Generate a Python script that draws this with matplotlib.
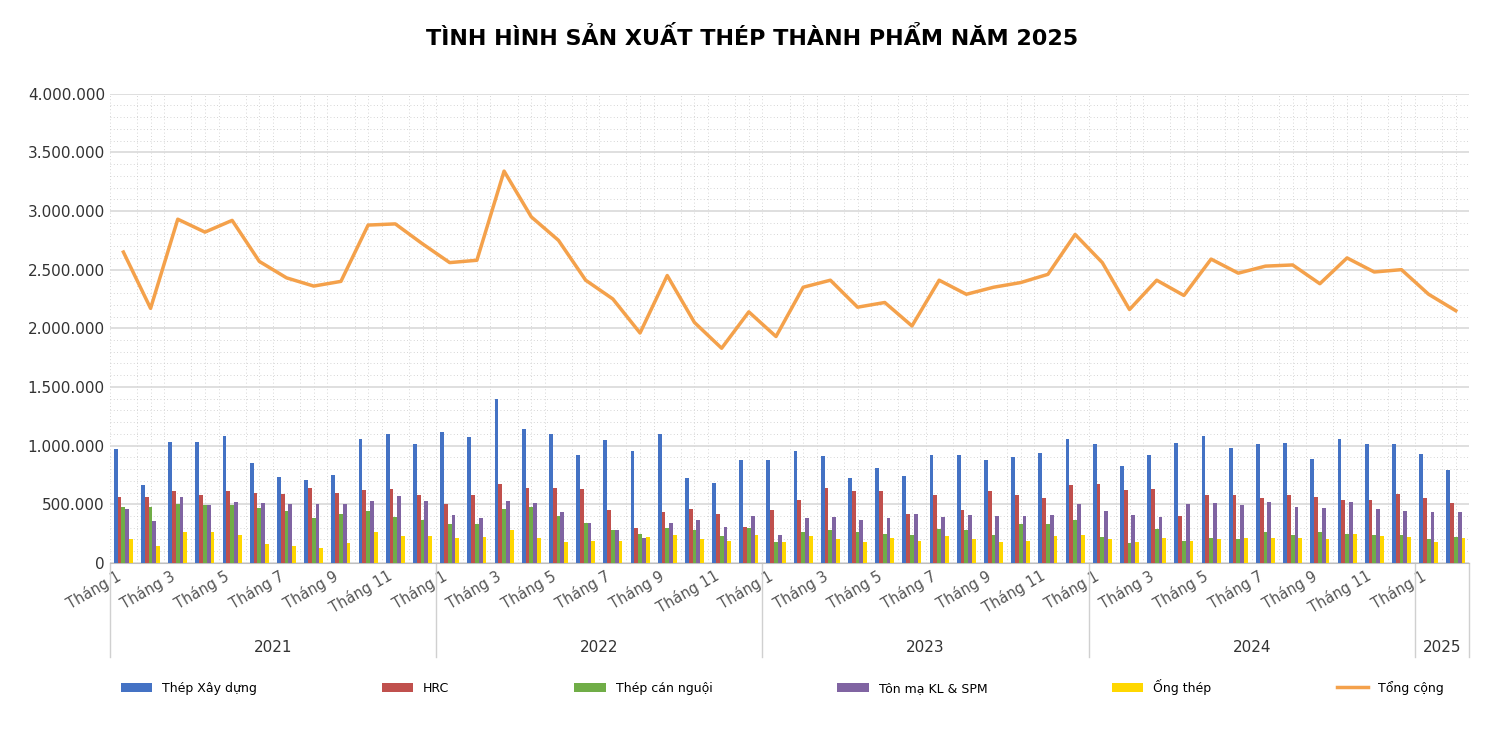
import matplotlib
matplotlib.use("Agg")
import matplotlib.pyplot as plt
import numpy as np
from matplotlib.ticker import FuncFormatter

years = ["2021", "2022", "2023", "2024", "2025"]
months_per_year = [12, 12, 12, 12, 2]
thep_xd = [970,660,1030,1030,1080,850,730,710,750,1060,1100,1010,
           1120,1070,1400,1140,1100,920,1050,950,1100,720,680,880,
           880,950,910,720,810,740,920,920,880,900,940,1060,
           1010,830,920,1020,1080,980,1010,1020,890,1060,1010,1010,
           930,790]
hrc = [560,560,610,580,610,600,590,640,600,620,630,580,
       500,580,670,640,640,630,450,300,430,460,420,310,
       450,540,640,610,610,420,580,450,610,580,550,660,
       670,620,630,400,580,580,550,580,560,540,540,590,
       550,510]
can_nguoi = [480,480,500,490,490,470,440,380,420,440,390,370,
             330,330,460,480,400,340,280,250,300,280,230,300,
             180,260,280,260,250,240,290,280,240,330,330,370,
             220,170,290,190,210,200,260,240,260,250,240,240,
             200,220]
ton_ma = [460,360,560,490,520,510,500,500,500,530,570,530,
          410,380,530,510,430,340,280,210,340,370,310,400,
          240,380,390,370,380,420,390,410,400,400,410,500,
          440,410,390,500,510,490,520,480,470,520,460,440,
          430,430]
ong_thep = [200,140,260,260,240,160,140,130,170,260,230,230,
            210,220,280,210,180,190,190,220,240,200,190,240,
            180,230,200,180,210,190,230,200,180,190,230,240,
            200,180,210,190,200,210,210,210,200,250,230,220,
            180,210]
tong = [2650,2170,2930,2820,2920,2570,2430,2360,2400,2880,2890,2720,
        2560,2580,3340,2950,2750,2410,2250,1960,2450,2050,1830,2140,
        1930,2350,2410,2180,2220,2020,2410,2290,2350,2390,2460,2800,
        2560,2160,2410,2280,2590,2470,2530,2540,2380,2600,2480,2500,
        2290,2150]
series = [("Thép Xây dựng", thep_xd, "#4472C4"), ("HRC", hrc, "#C0504D"),
          ("Thép cán nguội", can_nguoi, "#70AD47"), ("Tôn mạ KL & SPM", ton_ma, "#8064A2"),
          ("Ống thép", ong_thep, "#FFD700")]

fig = plt.figure(figsize=(15.04, 7.32), dpi=100)
ax = fig.add_axes([0.073, 0.231, 0.904, 0.641])
n = len(tong)
x = np.arange(n)
w = 0.14
for i, (name, vals, c) in enumerate(series):
    ax.bar(x + (i - 2) * w, np.array(vals) * 1000, w, color=c, label=name, zorder=3)
ax.plot(x, np.array(tong) * 1000, color="#F4A14B", lw=2.5, label="Tổng cộng", zorder=4)
ax.set_ylim(0, 4_000_000)
ax.set_xlim(-0.5, n - 0.5)
ax.set_yticks(np.arange(0, 4_000_001, 500_000))
ax.yaxis.set_major_formatter(FuncFormatter(lambda v, p: f"{int(v):,}".replace(",", ".")))
ax.grid(axis="y", color="#d9d9d9", lw=1.2, zorder=0)
ax.set_yticks(np.arange(0, 4_000_001, 100_000), minor=True)
ax.grid(axis="y", which="minor", color="#c8c8c8", lw=0.6, ls=(0, (1, 3)), zorder=0)
ax.set_xticks(np.arange(-0.5, n, 0.5), minor=True)
ax.grid(axis="x", which="minor", color="#c8c8c8", lw=0.6, ls=(0, (1, 3)), zorder=0)
ax.tick_params(axis="both", which="minor", length=0)
ax.tick_params(axis="y", length=0, labelsize=11, colors="#333333")
labels = []
for m in months_per_year:
    labels += [f"Tháng {k+1}" for k in range(m)]
ticks = [i for i in range(n) if labels[i] in ("Tháng 1","Tháng 3","Tháng 5","Tháng 7","Tháng 9","Tháng 11")]
ax.set_xticks(ticks)
ax.set_xticklabels([labels[i] for i in ticks], rotation=30, ha="right", fontsize=10.5, color="#555555")
ax.tick_params(axis="x", length=0)
for s in ["top", "right", "left"]:
    ax.spines[s].set_visible(False)
ax.spines["bottom"].set_color("#bfbfbf")

start = 0
for yname, m in zip(years, months_per_year):
    mid = start + (m - 1) / 2
    ax.annotate(yname, xy=(mid, 0), xycoords=("data", "axes fraction"), xytext=(0, -61),
                textcoords="offset points", ha="center", va="center", fontsize=11, color="#333333",
                annotation_clip=False)
    start += m
bounds = [-0.5]
acc = -0.5
for m in months_per_year:
    acc += m
    bounds.append(acc)
for b in bounds:
    ax.plot([b, b], [0, -0.20], transform=ax.get_xaxis_transform(), color="#d0d0d0", lw=1, clip_on=False)

fig.suptitle("TÌNH HÌNH SẢN XUẤT THÉP THÀNH PHẨM NĂM 2025", y=0.965, fontsize=16, fontweight="bold")
h, l = ax.get_legend_handles_labels()
order = [1, 2, 3, 4, 5, 0]
fig.legend([h[i] for i in order], [l[i] for i in order], loc="center", bbox_to_anchor=(0.52, 0.062),
           ncol=6, frameon=False, fontsize=9, handlelength=2.5, columnspacing=10)
fig.savefig("out.png", dpi=100)
